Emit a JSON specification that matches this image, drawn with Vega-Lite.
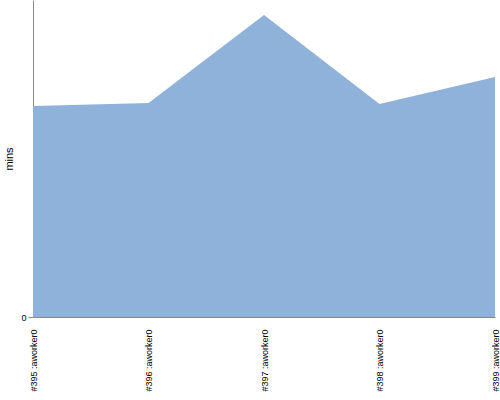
{
  "$schema": "https://vega.github.io/schema/vega-lite/v6.json",
  "autosize": "none",
  "padding": {"left": 33, "top": 0, "right": 5, "bottom": 83},
  "width": 462,
  "height": 317,
  "background": "white",
  "config": {"view": {"stroke": null}},
  "data": {"values": [
    {"build": "#395 :aworker0", "mins": 6.66},
    {"build": "#396 :aworker0", "mins": 6.75},
    {"build": "#397 :aworker0", "mins": 9.53},
    {"build": "#398 :aworker0", "mins": 6.72},
    {"build": "#399 :aworker0", "mins": 7.57}
  ]},
  "mark": {"type": "area", "color": "#8fb2da", "opacity": 1},
  "encoding": {
    "x": {
      "field": "build", "type": "ordinal", "sort": null,
      "scale": {"type": "point", "padding": 0},
      "axis": {"title": null, "labelAngle": -90, "labelFont": "Liberation Sans Narrow, Liberation Sans", "labelFontSize": 9, "labelColor": "black", "ticks": false, "domainColor": "#888888", "labelPadding": 12, "grid": false}
    },
    "y": {
      "field": "mins", "type": "quantitative",
      "scale": {"domain": [0, 10], "nice": false},
      "axis": {"title": "mins", "titleFont": "Liberation Sans", "titleFontSize": 11, "titleFontWeight": "normal", "titleColor": "black", "titlePadding": 6, "values": [0], "labelFont": "Liberation Sans", "labelFontSize": 9, "labelColor": "black", "domainColor": "#888888", "tickColor": "#888888", "tickSize": 5, "grid": false}
    }
  }
}
